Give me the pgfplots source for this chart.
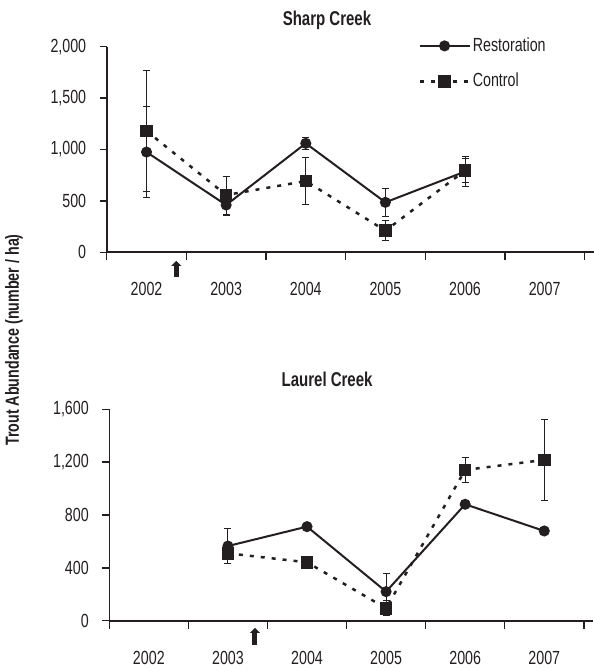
\documentclass[border=0pt]{standalone}
\usepackage{fontspec}
\setmainfont{Liberation Sans}[FakeStretch=0.75]
\usepackage{pgfplots}
\pgfplotsset{compat=1.18}
\usetikzlibrary{arrows.meta}
\definecolor{ink}{RGB}{35,31,32}
\pgfplotsset{
 trout/.style={
  scale only axis, axis lines=left, axis line style={-, line width=1.6pt, draw=ink},
  xmin=-0.5, xmax=5.62,
  xtick={0,...,5}, xticklabels={2002,2003,2004,2005,2006,2007},
  minor xtick={-0.5,0.5,...,5.5},
  major x tick style={draw=none},
  minor tick length=8pt, major tick length=7pt,
  tick align=outside, tick style={line width=1.4pt, draw=ink},
  xticklabel style={anchor=center, yshift=-30pt, text=ink},
  yticklabel style={xshift=-7pt, text=ink},
  clip=false,
  title style={font=\bfseries\fontsize{20}{24}\selectfont, text=ink, anchor=base},
 },
 rest/.style={draw=ink, line width=2pt, solid, mark=*, mark size=4.5pt, mark options={solid, fill=ink, draw=ink},
   error bars/.cd, y dir=both, y explicit, error bar style={line width=1pt, solid, draw=ink},
   error mark options={rotate=90, mark size=3.5pt, line width=1pt, solid, draw=ink}},
 ctrl/.style={draw=ink, line width=2.5pt, dash pattern=on 4pt off 7pt, mark=square*, mark size=5pt, mark options={solid, fill=ink, draw=ink},
   error bars/.cd, y dir=both, y explicit, error bar style={line width=1pt, solid, draw=ink},
   error mark options={rotate=90, mark size=3.5pt, line width=1pt, solid, draw=ink}},
}
\begin{document}
\fontsize{19}{23}\selectfont
\begin{tikzpicture}
\useasboundingbox (0,0) rectangle (594pt,672pt);
% ---------- Sharp Creek ----------
\begin{axis}[trout, at={(106.7pt,419.7pt)}, anchor=south west,
  width=487.3pt, height=205.6pt, ymin=0, ymax=2000,
  ytick={0,500,1000,1500,2000}, yticklabels={0,500,{1,000},{1,500},{2,000}},
  title={Sharp Creek}, title style={at={(axis description cs:0.452,1.075)}},
  legend image code/.code={\draw[mark repeat=2,mark phase=2,#1] plot coordinates {(0pt,0pt) (25pt,0pt) (50pt,0pt)};},
  legend style={at={(axis description cs:0.639,1.055)}, anchor=north west, draw=none, fill=none,
    inner sep=0pt, row sep=15pt, cells={anchor=west, text=ink}},
  legend cell align=left]
\addplot+[rest] coordinates {(0,975) +- (0,445) (1,460) +- (0,100) (2,1060) +- (0,60) (3,486) +- (0,135) (4,785) +- (0,145)};
\addlegendentry{Restoration}
\addplot+[ctrl] coordinates {(0,1180) +- (0,590) (1,557) +- (0,185) (2,693) +- (0,230) (3,210) +- (0,97) (4,795) +- (0,120)};
\addlegendentry{Control}
\draw[ink, line width=5pt, -{Triangle[width=10pt,length=5pt]}] (axis cs:0.374,-237) -- (axis cs:0.374,-84);
\end{axis}
% ---------- Laurel Creek ----------
\begin{axis}[trout, at={(109.3pt,51.3pt)}, anchor=south west,
  width=484pt, height=211.4pt, ymin=0, ymax=1600,
  ytick={0,400,800,1200,1600}, yticklabels={0,400,800,{1,200},{1,600}},
  title={Laurel Creek}, title style={at={(axis description cs:0.45,1.08)}}]
\addplot+[rest] coordinates {(1,565) +- (0,135) (2,712) +- (0,20) (3,220) +- (0,140) (4,881) +- (0,20) (5,679) +- (0,20)};
\addplot+[ctrl] coordinates {(1,510) +- (0,80) (2,442) +- (0,20) (3,94) +- (0,58) (4,1141) +- (0,95) (5,1217) +- (0,305)};
\draw[ink, line width=5pt, -{Triangle[width=10pt,length=5pt]}] (axis cs:1.342,-184) -- (axis cs:1.342,-55);
\end{axis}
\node[rotate=90, font=\bfseries, text=ink] at (14pt,332pt) {Trout Abundance (number / ha)};
\end{tikzpicture}
\end{document}
